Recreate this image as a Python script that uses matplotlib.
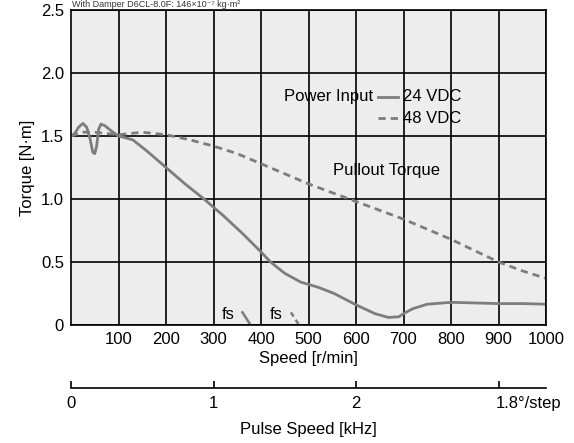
import matplotlib
matplotlib.use('Agg')
import matplotlib.pyplot as plt

plt.rcParams['font.family'] = ['Liberation Sans', 'DejaVu Sans']
plt.rcParams['font.size'] = 12

# 24 VDC curve (speed r/min, torque N·m)
speed_24 = [0, 8, 16, 25, 33, 40, 46, 50, 54, 58, 63, 72, 85, 100, 130, 160, 200, 240, 280, 320,
            360, 400, 420, 450, 484, 520, 554, 600, 640, 668, 690, 700, 720, 750, 800, 850, 900, 950, 1000]
torque_24 = [1.50, 1.52, 1.57, 1.60, 1.57, 1.48, 1.37, 1.36, 1.42, 1.55, 1.595, 1.58, 1.54, 1.50, 1.47, 1.38, 1.25, 1.12, 1.00, 0.87,
             0.73, 0.58, 0.50, 0.41, 0.34, 0.30, 0.25, 0.16, 0.09, 0.06, 0.065, 0.09, 0.13, 0.165, 0.18, 0.175, 0.17, 0.17, 0.165]

# 48 VDC curve
speed_48 = [0, 25, 50, 100, 150, 200, 250, 300, 350, 400, 450, 500, 550, 600, 650, 700,
            750, 800, 850, 900, 950, 1000]
torque_48 = [1.50, 1.53, 1.53, 1.51, 1.53, 1.51, 1.47, 1.42, 1.36, 1.28, 1.20, 1.12, 1.05, 0.98, 0.91, 0.84,
             0.76, 0.68, 0.59, 0.50, 0.43, 0.37]

x_ticks = [100, 200, 300, 400, 500, 600, 700, 800, 900, 1000]
y_ticks = [0, 0.5, 1.0, 1.5, 2.0, 2.5]
y_labels = ['0', '0.5', '1.0', '1.5', '2.0', '2.5']
pulse_ticks = [0, 1, 2, 3]
pulse_labels = ['0', '1', '2', '']

line_col = '#7d7d7d'
dash = (0, (2.6, 1.8))

fig = plt.figure(figsize=(5.74, 4.43), dpi=100)
ax = fig.add_axes([71/574, 1 - 325/443, 475/574, 315/443])
ax.set_facecolor('#ededed')

ax.plot(speed_24, torque_24, color=line_col, lw=2.0, solid_capstyle='round')
ax.plot(speed_48, torque_48, color=line_col, lw=2.0, ls=dash)

# fs markers
ax.plot([361, 378], [0.10, 0.0], color=line_col, lw=1.8)
ax.plot([463, 480], [0.10, 0.0], color=line_col, lw=1.8, ls=(0, (2, 1.5)))
ax.text(330, 0.02, 'fs', ha='center', va='bottom')
ax.text(432, 0.02, 'fs', ha='center', va='bottom')

ax.set_xlim(0, 1000)
ax.set_ylim(0, 2.5)
ax.set_xticks(x_ticks)
ax.set_yticks(y_ticks)
ax.set_yticklabels(y_labels)
ax.grid(True, color='black', lw=1.2)
ax.set_axisbelow(True)
for s in ax.spines.values():
    s.set_color('black')
    s.set_linewidth(1.2)
ax.tick_params(length=0, pad=5, labelsize=12)
ax.set_xlabel('Speed [r/min]', fontsize=12, labelpad=3)
ax.set_ylabel('Torque [N·m]', fontsize=12, labelpad=4)

# legend text
ax.text(636, 1.81, 'Power Input', ha='right', va='center')
ax.plot([646, 688], [1.81, 1.81], color=line_col, lw=2.0)
ax.text(698, 1.81, '24 VDC', ha='left', va='center')
ax.plot([646, 688], [1.64, 1.64], color=line_col, lw=2.0, ls=dash)
ax.text(698, 1.64, '48 VDC', ha='left', va='center')
ax.text(552, 1.23, 'Pullout Torque', ha='left', va='center')

# pulse speed axis
ax2 = fig.add_axes([71/574, 1 - 388/443, 475/574, 0.001])
ax2.set_xlim(0, 1000 / 300)
for side in ['top', 'left', 'right']:
    ax2.spines[side].set_visible(False)
ax2.spines['bottom'].set_linewidth(1.2)
ax2.set_yticks([])
ax2.set_xticks(pulse_ticks)
ax2.set_xticklabels(pulse_labels)
ax2.tick_params(axis='x', direction='in', length=5, width=1.2, pad=6, labelsize=12)
ax2.patch.set_visible(False)
ax2.annotate('1.8°/step', xy=(2.98, 0), xycoords=('data', 'axes fraction'),
             xytext=(0, -6), textcoords='offset points', ha='left', va='top', fontsize=12)
ax2.set_xlabel('Pulse Speed [kHz]', fontsize=12, labelpad=8)

fig.text(72/574, 0.999, 'With Damper D6CL-8.0F: 146×10⁻⁷ kg·m²', ha='left', va='top',
         fontsize=6.5, color='#333333')

fig.savefig('out.png', dpi=100)
